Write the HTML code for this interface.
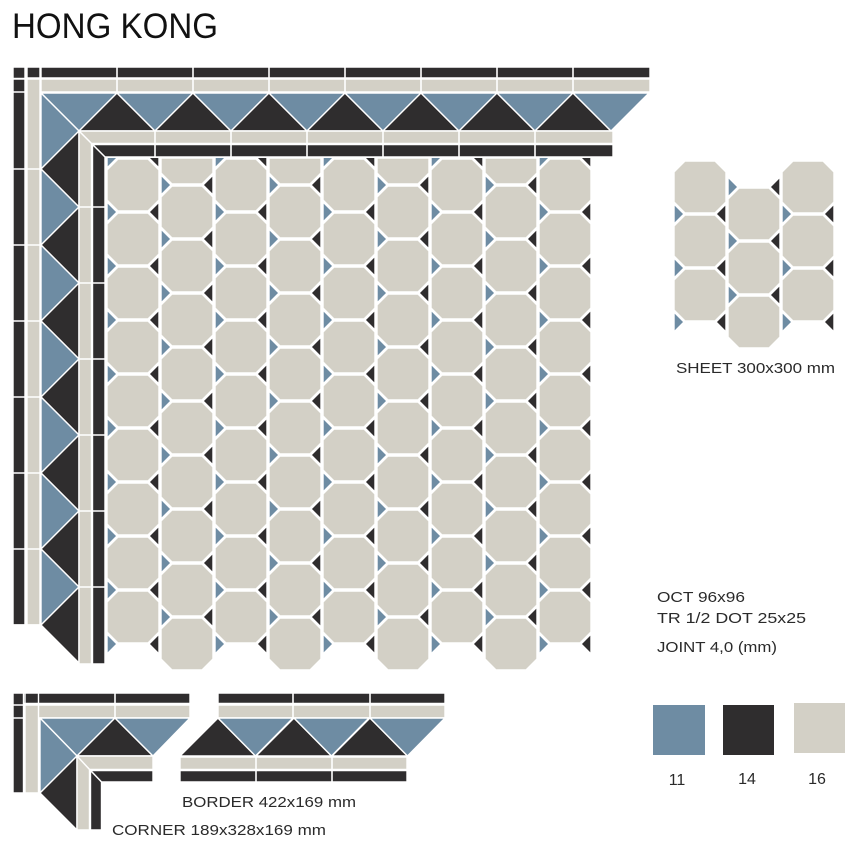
<!DOCTYPE html>
<html><head><meta charset="utf-8"><style>
html,body{margin:0;padding:0;background:#fff;}
svg{display:block}
text{font-family:"Liberation Sans",sans-serif;fill:#2a2a2a}
</style></head><body>
<svg id="s" width="854" height="850" viewBox="0 0 854 850" xmlns="http://www.w3.org/2000/svg">
<defs><clipPath id="gc"><rect x="100" y="158" width="500" height="520"/></clipPath></defs>
<rect width="854" height="850" fill="#fff"/>
<g id="g" stroke="#fff" stroke-width="1.4" stroke-linejoin="round"></g>
<text x="12" y="38" font-size="35" textLength="206" lengthAdjust="spacingAndGlyphs" style="fill:#111">HONG KONG</text>
<text x="676" y="373" font-size="15" textLength="159" lengthAdjust="spacingAndGlyphs">SHEET 300x300 mm</text>
<text x="657" y="602" font-size="15" textLength="88" lengthAdjust="spacingAndGlyphs">OCT 96x96</text>
<text x="657" y="623" font-size="15" textLength="149" lengthAdjust="spacingAndGlyphs">TR 1/2 DOT 25x25</text>
<text x="657" y="652" font-size="15" textLength="120" lengthAdjust="spacingAndGlyphs">JOINT 4,0 (mm)</text>
<text x="182" y="807" font-size="15" textLength="174" lengthAdjust="spacingAndGlyphs">BORDER 422x169 mm</text>
<text x="112" y="835" font-size="15" textLength="214" lengthAdjust="spacingAndGlyphs">CORNER 189x328x169 mm</text>
<rect x="653" y="705" width="52" height="50" fill="#6e8ca3"/>
<rect x="723" y="705" width="51" height="50" fill="#2f2d2e"/>
<rect x="794" y="703" width="51" height="50" fill="#d3d0c6"/>
<text x="677" y="785" font-size="16" text-anchor="middle">11</text>
<text x="747" y="784" font-size="16" text-anchor="middle">14</text>
<text x="817" y="784" font-size="16" text-anchor="middle">16</text>
</svg>
<script>
var B="#6e8ca3",K="#2f2d2e",E="#d3d0c6";
var g=document.getElementById('g');var out=[];
function P(pts,f,extra){out.push('<polygon points="'+pts.map(function(p){return p.join(',')}).join(' ')+'" fill="'+f+'"'+(extra||'')+'/>');}
function R(x1,y1,x2,y2,f){P([[x1,y1],[x2,y1],[x2,y2],[x1,y2]],f);}
function oct(x,y,w,c){var a=x+1,b=x+w-1,t=y+1,u=y+w-1;P([[a+c,t],[b-c,t],[b,t+c],[b,u-c],[b-c,u],[a+c,u],[a,u-c],[a,t+c]],E);}
function tris(x,w,j,t,clip){var cl=clip?' clip-path="url(#gc)"':'';P([[x+1,j-t],[x+1+t,j],[x+1,j+t]],B,cl);P([[x+w-1,j-t],[x+w-1-t,j],[x+w-1,j+t]],K,cl);}
var C=11,T=10;
R(13,67,650,78,K);R(13,67,25,625,K);
R(27,79,650,92,E);R(27,79,40,625,E);R(13,79,25,92,K);R(27,67,40,78,K);
for(var k=0;k<7;k++){var x=117+76*k;out.push('<line x1="'+x+'" y1="67" x2="'+x+'" y2="92" stroke="#fff" stroke-width="1.6"/>');}
for(var k=0;k<7;k++){var y=169+76*k;out.push('<line x1="13" y1="'+y+'" x2="40" y2="'+y+'" stroke="#fff" stroke-width="1.6"/>');}
out.push('<line x1="13" y1="78.5" x2="40" y2="78.5" stroke="#fff" stroke-width="1.4"/><line x1="26" y1="67" x2="26" y2="92" stroke="#fff" stroke-width="1.4"/><line x1="41" y1="67" x2="41" y2="93" stroke="#fff" stroke-width="1.4"/>');
P([[41,93],[117,93],[79,131]],B);P([[41,93],[79,131],[41,169]],B);
for(var k=0;k<7;k++){var a=117+76*k;P([[a,93],[a+38,131],[a-38,131]],K);P([[a,93],[a+76,93],[a+38,131]],B);}
for(var k=0;k<7;k++){var a=169+76*k;P([[41,a],[79,a-38],[79,a+38]],K);if(k<6)P([[41,a],[79,a+38],[41,a+76]],B);}
P([[79,131],[613,131],[613,143.5],[91.5,143.5]],E);P([[79,131],[91.5,143.5],[91.5,664],[79,664]],E);
P([[92.5,144.5],[613,144.5],[613,157],[105,157]],K);P([[92.5,144.5],[105,157],[105,664],[92.5,664]],K);
for(var k=0;k<6;k++){var x=155+76*k;out.push('<line x1="'+x+'" y1="131" x2="'+x+'" y2="157" stroke="#fff" stroke-width="1.6"/>');var y=207+76*k;out.push('<line x1="79" y1="'+y+'" x2="105" y2="'+y+'" stroke="#fff" stroke-width="1.6"/>');}
for(var k=0;k<9;k++){var x=106+54*k;
 if(k%2==0){for(var r=0;r<9;r++)oct(x,158+54*r,54,C);for(var r=0;r<10;r++)tris(x,54,158+54*r,T,true);}
 else{P([[x+1,158],[x+53,158],[x+53,173],[x+42,184],[x+12,184],[x+1,173]],E);for(var r=0;r<9;r++)oct(x,185+54*r,54,C);for(var r=0;r<9;r++)tris(x,54,185+54*r,T,false);}
}
[673,727,781].forEach(function(x,i){
 if(i!=1){for(var r=0;r<3;r++)oct(x,160+54*r,54,C);for(var r=1;r<4;r++)tris(x,54,160+54*r,T,false);}
 else{for(var r=0;r<3;r++)oct(x,187+54*r,54,C);for(var r=0;r<3;r++)tris(x,54,187+54*r,T,false);}
});
R(13,693,190,703.5,K);R(13,693,23.5,793,K);R(25,705,190,718,E);R(25,705,38.5,793,E);R(13,705,23.5,718,K);R(25,693,38.5,703.5,K);
out.push('<line x1="115" y1="693" x2="115" y2="718" stroke="#fff" stroke-width="1.6"/>');
P([[40,718],[115,718],[77,756]],B);P([[40,718],[77,756],[40,793]],B);
P([[115,718],[153,756],[77,756]],K);P([[115,718],[190,718],[153,756]],B);
P([[40,793],[77,756],[77,830]],K);
P([[77,756],[153,756],[153,769.5],[89.5,769.5]],E);P([[77,756],[89.5,769.5],[89.5,830],[77,830]],E);
P([[90.5,770.5],[153,770.5],[153,782],[101.5,782]],K);P([[90.5,770.5],[101.5,782],[101.5,830],[90.5,830]],K);
R(218,693,445,703.5,K);R(218,705,445,718,E);
out.push('<line x1="293" y1="693" x2="293" y2="718" stroke="#fff" stroke-width="1.6"/><line x1="370" y1="693" x2="370" y2="718" stroke="#fff" stroke-width="1.6"/>');
[218,294,370].forEach(function(a){P([[a,718],[a+37.5,756],[a-38,756]],K);P([[a,718],[a+75,718],[a+37.5,756]],B);});
R(180,757,407,769.5,E);R(180,770.5,407,782,K);
out.push('<line x1="256" y1="757" x2="256" y2="782" stroke="#fff" stroke-width="1.6"/><line x1="332" y1="757" x2="332" y2="782" stroke="#fff" stroke-width="1.6"/>');
g.innerHTML=out.join('');
</script>
</body></html>
